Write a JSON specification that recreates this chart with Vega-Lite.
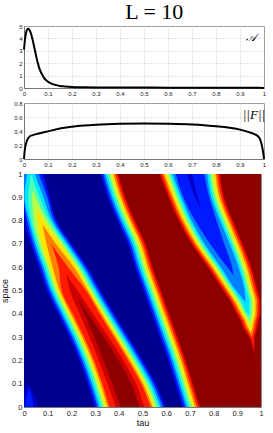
{
  "$schema": "https://vega.github.io/schema/vega-lite/v6.json",
  "title": {"text": "L = 10", "font": "Liberation Serif", "fontSize": 22, "fontWeight": "normal", "anchor": "middle", "offset": -1, "dx": 20},
  "padding": {"left": 0, "top": 0, "right": 6, "bottom": 2},
  "spacing": 15,
  "bounds": "flush",
  "config": {
    "font": "Liberation Sans",
    "view": {"stroke": "#8a8a8a"},
    "axis": {"labelFontSize": 6.5, "labelColor": "#1a1a1a", "ticks": false, "tickSize": 0, "domainColor": "#777", "titleFontWeight": "normal", "titleFontSize": 9, "titleColor": "#111", "labelPadding": 2, "gridColor": "#c8c8c8", "gridDash": [1, 2], "labelFlush": false, "labelOverlap": false}
  },
  "datasets": {
    "A": [
      {"t":0,"v":3.1},{"t":0.004,"v":3.9},{"t":0.008,"v":4.4},{"t":0.012,"v":4.68},{"t":0.017,"v":4.78},{"t":0.022,"v":4.7},{"t":0.027,"v":4.5},{"t":0.032,"v":4.2},{"t":0.037,"v":3.8},{"t":0.042,"v":3.35},{"t":0.047,"v":2.9},{"t":0.052,"v":2.45},{"t":0.057,"v":2.05},{"t":0.062,"v":1.7},{"t":0.068,"v":1.38},{"t":0.075,"v":1.1},{"t":0.082,"v":0.86},{"t":0.09,"v":0.67},{"t":0.1,"v":0.5},{"t":0.11,"v":0.39},{"t":0.12,"v":0.31},{"t":0.135,"v":0.23},{"t":0.15,"v":0.17},{"t":0.17,"v":0.13},{"t":0.2,"v":0.09},{"t":0.25,"v":0.065},{"t":0.3,"v":0.05},{"t":0.4,"v":0.04},{"t":0.5,"v":0.035},{"t":0.6,"v":0.03},{"t":0.7,"v":0.03},{"t":0.8,"v":0.025},{"t":0.9,"v":0.02},{"t":0.95,"v":0.015},{"t":1,"v":0.01}
    ],
    "F": [
      {"t":0,"v":0},{"t":0.003,"v":0.12},{"t":0.007,"v":0.2},{"t":0.012,"v":0.26},{"t":0.018,"v":0.3},{"t":0.025,"v":0.325},{"t":0.035,"v":0.34},{"t":0.05,"v":0.355},{"t":0.075,"v":0.375},{"t":0.1,"v":0.395},{"t":0.15,"v":0.435},{"t":0.2,"v":0.46},{"t":0.25,"v":0.478},{"t":0.3,"v":0.49},{"t":0.4,"v":0.503},{"t":0.5,"v":0.507},{"t":0.6,"v":0.503},{"t":0.7,"v":0.493},{"t":0.75,"v":0.483},{"t":0.8,"v":0.468},{"t":0.85,"v":0.45},{"t":0.9,"v":0.42},{"t":0.94,"v":0.38},{"t":0.96,"v":0.355},{"t":0.975,"v":0.325},{"t":0.985,"v":0.27},{"t":0.992,"v":0.18},{"t":0.997,"v":0.08},{"t":1,"v":0}
    ],
    "BG": [{"g":"bg","s":0,"a":0,"b":1},{"g":"bg","s":1,"a":0,"b":1}],
    "L05": [
      {"g":"r1","s":0,"a":0.297,"b":0.598},{"g":"r1","s":0.1,"a":0.267,"b":0.558},{"g":"r1","s":0.2,"a":0.232,"b":0.503},{"g":"r1","s":0.3,"a":0.19,"b":0.443},{"g":"r1","s":0.4,"a":0.142,"b":0.383},{"g":"r1","s":0.5,"a":0.095,"b":0.325},{"g":"r1","s":0.6,"a":0.062,"b":0.27},{"g":"r1","s":0.7,"a":0.027,"b":0.203},{"g":"r1","s":0.8,"a":0.001,"b":0.139},{"g":"r1","s":0.9,"a":0,"b":0.11},{"g":"r1","s":1,"a":0,"b":0.086},
      {"g":"r2","s":0,"a":0.667,"b":1},{"g":"r2","s":0.1,"a":0.637,"b":1},{"g":"r2","s":0.2,"a":0.607,"b":1},{"g":"r2","s":0.3,"a":0.572,"b":1},{"g":"r2","s":0.4,"a":0.537,"b":1},{"g":"r2","s":0.5,"a":0.502,"b":1},{"g":"r2","s":0.6,"a":0.467,"b":1},{"g":"r2","s":0.7,"a":0.437,"b":1},{"g":"r2","s":0.8,"a":0.392,"b":1},{"g":"r2","s":0.9,"a":0.352,"b":1},{"g":"r2","s":1,"a":0.322,"b":1},
      {"g":"sp","s":0,"a":0,"b":0.06},{"g":"sp","s":0.05,"a":0,"b":0.045},{"g":"sp","s":0.1,"a":0.015,"b":0.015}
    ],
    "L10": [
      {"g":"r1","s":0,"a":0.301,"b":0.594},{"g":"r1","s":0.1,"a":0.271,"b":0.554},{"g":"r1","s":0.2,"a":0.236,"b":0.499},{"g":"r1","s":0.3,"a":0.194,"b":0.439},{"g":"r1","s":0.4,"a":0.146,"b":0.379},{"g":"r1","s":0.5,"a":0.099,"b":0.321},{"g":"r1","s":0.6,"a":0.066,"b":0.266},{"g":"r1","s":0.7,"a":0.031,"b":0.199},{"g":"r1","s":0.8,"a":0.005,"b":0.135},{"g":"r1","s":0.9,"a":0,"b":0.106},{"g":"r1","s":1,"a":0,"b":0.078},
      {"g":"r2b","s":0,"a":0.671,"b":1},{"g":"r2b","s":0.1,"a":0.641,"b":1},{"g":"r2b","s":0.2,"a":0.611,"b":1},{"g":"r2b","s":0.3,"a":0.576,"b":1},{"g":"r2b","s":0.4,"a":0.541,"b":1},{"g":"r2b","s":0.5,"a":0.506,"b":1},{"g":"r2b","s":0.6,"a":0.471,"b":1},{"g":"r2b","s":0.7,"a":0.441,"b":1},{"g":"r2b","s":0.8,"a":0.396,"b":1},{"g":"r2b","s":0.85,"a":0.376,"b":1},
      {"g":"r2a","s":0.85,"a":0.376,"b":0.747},{"g":"r2a","s":0.9,"a":0.356,"b":0.722},{"g":"r2a","s":1,"a":0.326,"b":0.69},
      {"g":"r3","s":0.85,"a":0.747,"b":1},{"g":"r3","s":0.9,"a":0.732,"b":1},{"g":"r3","s":1,"a":0.71,"b":1},
      {"g":"sp","s":0,"a":0.005,"b":0.04},{"g":"sp","s":0.05,"a":0.012,"b":0.032},{"g":"sp","s":0.08,"a":0.022,"b":0.022}
    ],
    "L20": [
      {"g":"r1","s":0,"a":0.31,"b":0.586},{"g":"r1","s":0.1,"a":0.28,"b":0.546},{"g":"r1","s":0.2,"a":0.245,"b":0.491},{"g":"r1","s":0.3,"a":0.203,"b":0.431},{"g":"r1","s":0.4,"a":0.155,"b":0.371},{"g":"r1","s":0.5,"a":0.108,"b":0.313},{"g":"r1","s":0.6,"a":0.075,"b":0.258},{"g":"r1","s":0.7,"a":0.04,"b":0.191},{"g":"r1","s":0.8,"a":0.014,"b":0.127},{"g":"r1","s":0.9,"a":0,"b":0.098},{"g":"r1","s":1,"a":0,"b":0.062},
      {"g":"r2b","s":0,"a":0.68,"b":1},{"g":"r2b","s":0.1,"a":0.65,"b":1},{"g":"r2b","s":0.2,"a":0.62,"b":1},{"g":"r2b","s":0.3,"a":0.585,"b":1},{"g":"r2b","s":0.4,"a":0.55,"b":1},{"g":"r2b","s":0.5,"a":0.515,"b":1},{"g":"r2b","s":0.567,"a":0.4912,"b":1},
      {"g":"r2a","s":0.567,"a":0.4912,"b":0.883},{"g":"r2a","s":0.6,"a":0.4795,"b":0.858},{"g":"r2a","s":0.7,"a":0.4495,"b":0.785},{"g":"r2a","s":0.8,"a":0.4045,"b":0.722},{"g":"r2a","s":0.9,"a":0.3645,"b":0.6725},{"g":"r2a","s":1,"a":0.3345,"b":0.64},
      {"g":"r3","s":0.567,"a":0.883,"b":1},{"g":"r3","s":0.6,"a":0.878,"b":1},{"g":"r3","s":0.7,"a":0.845,"b":1},{"g":"r3","s":0.8,"a":0.812,"b":1},{"g":"r3","s":0.9,"a":0.7815,"b":1},{"g":"r3","s":1,"a":0.76,"b":1}
    ],
    "L30": [
      {"g":"r1","s":0,"a":0.318,"b":0.577},{"g":"r1","s":0.1,"a":0.288,"b":0.537},{"g":"r1","s":0.2,"a":0.253,"b":0.482},{"g":"r1","s":0.3,"a":0.211,"b":0.422},{"g":"r1","s":0.4,"a":0.163,"b":0.362},{"g":"r1","s":0.5,"a":0.116,"b":0.304},{"g":"r1","s":0.6,"a":0.083,"b":0.249},{"g":"r1","s":0.7,"a":0.048,"b":0.182},{"g":"r1","s":0.8,"a":0.022,"b":0.118},{"g":"r1","s":0.9,"a":0.002,"b":0.082},{"g":"r1","s":1,"a":0.014,"b":0.046},
      {"g":"r2b","s":0,"a":0.688,"b":1},{"g":"r2b","s":0.1,"a":0.658,"b":1},{"g":"r2b","s":0.2,"a":0.628,"b":1},{"g":"r2b","s":0.3,"a":0.593,"b":1},{"g":"r2b","s":0.4,"a":0.558,"b":1},{"g":"r2b","s":0.45,"a":0.5405,"b":1},
      {"g":"r2a","s":0.45,"a":0.5405,"b":0.935},{"g":"r2a","s":0.5,"a":0.523,"b":0.895},{"g":"r2a","s":0.6,"a":0.488,"b":0.831},{"g":"r2a","s":0.7,"a":0.458,"b":0.762},{"g":"r2a","s":0.8,"a":0.413,"b":0.707},{"g":"r2a","s":0.9,"a":0.373,"b":0.664},{"g":"r2a","s":1,"a":0.343,"b":0.627},
      {"g":"r3","s":0.45,"a":0.935,"b":1},{"g":"r3","s":0.5,"a":0.931,"b":1},{"g":"r3","s":0.6,"a":0.905,"b":1},{"g":"r3","s":0.7,"a":0.868,"b":1},{"g":"r3","s":0.8,"a":0.827,"b":1},{"g":"r3","s":0.9,"a":0.79,"b":1},{"g":"r3","s":1,"a":0.773,"b":1}
    ],
    "L40": [
      {"g":"r1","s":0,"a":0.3265,"b":0.5685},{"g":"r1","s":0.1,"a":0.2965,"b":0.5285},{"g":"r1","s":0.2,"a":0.2615,"b":0.4735},{"g":"r1","s":0.3,"a":0.2195,"b":0.4135},{"g":"r1","s":0.4,"a":0.1715,"b":0.3535},{"g":"r1","s":0.5,"a":0.1245,"b":0.2955},{"g":"r1","s":0.6,"a":0.0915,"b":0.2405},{"g":"r1","s":0.7,"a":0.0565,"b":0.1735},{"g":"r1","s":0.8,"a":0.0305,"b":0.1095},{"g":"r1","s":0.9,"a":0.018,"b":0.066},{"g":"r1","s":1,"a":0.03,"b":0.03},
      {"g":"r2b","s":0,"a":0.6965,"b":1},{"g":"r2b","s":0.1,"a":0.6665,"b":1},{"g":"r2b","s":0.2,"a":0.6365,"b":1},{"g":"r2b","s":0.3,"a":0.6015,"b":1},{"g":"r2b","s":0.395,"a":0.5683,"b":1},
      {"g":"r2a","s":0.395,"a":0.5683,"b":0.948},{"g":"r2a","s":0.4,"a":0.5665,"b":0.9435},{"g":"r2a","s":0.45,"a":0.549,"b":0.9185},{"g":"r2a","s":0.5,"a":0.5315,"b":0.8865},{"g":"r2a","s":0.6,"a":0.4965,"b":0.8225},{"g":"r2a","s":0.7,"a":0.4665,"b":0.7535},{"g":"r2a","s":0.8,"a":0.4215,"b":0.6985},{"g":"r2a","s":0.9,"a":0.3815,"b":0.6555},{"g":"r2a","s":1,"a":0.3515,"b":0.6185},
      {"g":"r3","s":0.395,"a":0.948,"b":1},{"g":"r3","s":0.4,"a":0.9505,"b":1},{"g":"r3","s":0.45,"a":0.9515,"b":1},{"g":"r3","s":0.5,"a":0.9395,"b":1},{"g":"r3","s":0.6,"a":0.9135,"b":1},{"g":"r3","s":0.7,"a":0.8765,"b":1},{"g":"r3","s":0.8,"a":0.8355,"b":1},{"g":"r3","s":0.9,"a":0.7985,"b":1},{"g":"r3","s":1,"a":0.7815,"b":1}
    ],
    "L50": [
      {"g":"r1","s":0,"a":0.335,"b":0.56},{"g":"r1","s":0.1,"a":0.305,"b":0.52},{"g":"r1","s":0.2,"a":0.27,"b":0.465},{"g":"r1","s":0.3,"a":0.228,"b":0.405},{"g":"r1","s":0.4,"a":0.18,"b":0.345},{"g":"r1","s":0.5,"a":0.133,"b":0.287},{"g":"r1","s":0.6,"a":0.1,"b":0.232},{"g":"r1","s":0.7,"a":0.065,"b":0.165},{"g":"r1","s":0.8,"a":0.041,"b":0.099},{"g":"r1","s":0.9,"a":0.034,"b":0.05},{"g":"r1","s":0.933,"a":0.038,"b":0.038},
      {"g":"r2b","s":0,"a":0.705,"b":1},{"g":"r2b","s":0.1,"a":0.675,"b":1},{"g":"r2b","s":0.2,"a":0.645,"b":1},{"g":"r2b","s":0.3,"a":0.61,"b":1},{"g":"r2b","s":0.37,"a":0.5855,"b":1},
      {"g":"r2a","s":0.37,"a":0.5855,"b":0.952},{"g":"r2a","s":0.4,"a":0.575,"b":0.935},{"g":"r2a","s":0.45,"a":0.5575,"b":0.91},{"g":"r2a","s":0.5,"a":0.54,"b":0.878},{"g":"r2a","s":0.6,"a":0.505,"b":0.814},{"g":"r2a","s":0.7,"a":0.475,"b":0.745},{"g":"r2a","s":0.8,"a":0.43,"b":0.69},{"g":"r2a","s":0.9,"a":0.39,"b":0.647},{"g":"r2a","s":1,"a":0.36,"b":0.612},
      {"g":"r3","s":0.37,"a":0.952,"b":1},{"g":"r3","s":0.4,"a":0.959,"b":1},{"g":"r3","s":0.45,"a":0.96,"b":1},{"g":"r3","s":0.5,"a":0.948,"b":1},{"g":"r3","s":0.6,"a":0.922,"b":1},{"g":"r3","s":0.7,"a":0.885,"b":1},{"g":"r3","s":0.8,"a":0.844,"b":1},{"g":"r3","s":0.9,"a":0.807,"b":1},{"g":"r3","s":1,"a":0.788,"b":1}
    ],
    "L60": [
      {"g":"r1","s":0,"a":0.3435,"b":0.5515},{"g":"r1","s":0.1,"a":0.3135,"b":0.5115},{"g":"r1","s":0.2,"a":0.2785,"b":0.4565},{"g":"r1","s":0.3,"a":0.2365,"b":0.3965},{"g":"r1","s":0.4,"a":0.1885,"b":0.3365},{"g":"r1","s":0.5,"a":0.1415,"b":0.2785},{"g":"r1","s":0.6,"a":0.1085,"b":0.2235},{"g":"r1","s":0.7,"a":0.075,"b":0.155},{"g":"r1","s":0.8,"a":0.057,"b":0.083},{"g":"r1","s":0.862,"a":0.052,"b":0.052},
      {"g":"r2b","s":0,"a":0.7135,"b":1},{"g":"r2b","s":0.1,"a":0.6835,"b":1},{"g":"r2b","s":0.2,"a":0.6535,"b":1},{"g":"r2b","s":0.3,"a":0.6185,"b":1},{"g":"r2b","s":0.34,"a":0.6045,"b":1},
      {"g":"r2a","s":0.34,"a":0.6045,"b":0.955},{"g":"r2a","s":0.37,"a":0.594,"b":0.9435},{"g":"r2a","s":0.4,"a":0.5835,"b":0.9265},{"g":"r2a","s":0.45,"a":0.566,"b":0.9015},{"g":"r2a","s":0.5,"a":0.5485,"b":0.8695},{"g":"r2a","s":0.6,"a":0.5135,"b":0.8055},{"g":"r2a","s":0.7,"a":0.4835,"b":0.7365},{"g":"r2a","s":0.8,"a":0.4385,"b":0.6815},{"g":"r2a","s":0.9,"a":0.3985,"b":0.6385},{"g":"r2a","s":1,"a":0.3685,"b":0.6015},
      {"g":"r3","s":0.34,"a":0.955,"b":1},{"g":"r3","s":0.37,"a":0.9605,"b":1},{"g":"r3","s":0.4,"a":0.9675,"b":1},{"g":"r3","s":0.45,"a":0.9685,"b":1},{"g":"r3","s":0.5,"a":0.9565,"b":1},{"g":"r3","s":0.6,"a":0.9305,"b":1},{"g":"r3","s":0.7,"a":0.8935,"b":1},{"g":"r3","s":0.8,"a":0.8525,"b":1},{"g":"r3","s":0.9,"a":0.8155,"b":1},{"g":"r3","s":1,"a":0.7985,"b":1}
    ],
    "L70": [
      {"g":"r1","s":0,"a":0.352,"b":0.543},{"g":"r1","s":0.1,"a":0.322,"b":0.503},{"g":"r1","s":0.2,"a":0.287,"b":0.448},{"g":"r1","s":0.3,"a":0.245,"b":0.388},{"g":"r1","s":0.4,"a":0.197,"b":0.328},{"g":"r1","s":0.5,"a":0.15,"b":0.27},{"g":"r1","s":0.6,"a":0.121,"b":0.211},{"g":"r1","s":0.7,"a":0.095,"b":0.135},{"g":"r1","s":0.783,"a":0.078,"b":0.078},
      {"g":"r2b","s":0,"a":0.722,"b":1},{"g":"r2b","s":0.1,"a":0.692,"b":1},{"g":"r2b","s":0.2,"a":0.662,"b":1},{"g":"r2b","s":0.3,"a":0.627,"b":1},{"g":"r2b","s":0.32,"a":0.62,"b":1},
      {"g":"r2a","s":0.32,"a":0.62,"b":0.958},{"g":"r2a","s":0.34,"a":0.613,"b":0.9465},{"g":"r2a","s":0.37,"a":0.6025,"b":0.935},{"g":"r2a","s":0.4,"a":0.592,"b":0.918},{"g":"r2a","s":0.45,"a":0.5745,"b":0.893},{"g":"r2a","s":0.5,"a":0.557,"b":0.861},{"g":"r2a","s":0.6,"a":0.522,"b":0.797},{"g":"r2a","s":0.7,"a":0.492,"b":0.728},{"g":"r2a","s":0.8,"a":0.447,"b":0.673},{"g":"r2a","s":0.9,"a":0.407,"b":0.63},{"g":"r2a","s":1,"a":0.377,"b":0.593},
      {"g":"r3","s":0.32,"a":0.958,"b":1},{"g":"r3","s":0.34,"a":0.9635,"b":1},{"g":"r3","s":0.37,"a":0.969,"b":1},{"g":"r3","s":0.4,"a":0.976,"b":1},{"g":"r3","s":0.45,"a":0.977,"b":1},{"g":"r3","s":0.5,"a":0.965,"b":1},{"g":"r3","s":0.6,"a":0.939,"b":1},{"g":"r3","s":0.7,"a":0.902,"b":1},{"g":"r3","s":0.8,"a":0.861,"b":1},{"g":"r3","s":0.9,"a":0.824,"b":1},{"g":"r3","s":1,"a":0.807,"b":1}
    ],
    "L80": [
      {"g":"r1","s":0,"a":0.3605,"b":0.5345},{"g":"r1","s":0.1,"a":0.3305,"b":0.4945},{"g":"r1","s":0.2,"a":0.2955,"b":0.4395},{"g":"r1","s":0.3,"a":0.2535,"b":0.3795},{"g":"r1","s":0.4,"a":0.2055,"b":0.3195},{"g":"r1","s":0.5,"a":0.1585,"b":0.2615},{"g":"r1","s":0.6,"a":0.146,"b":0.186},{"g":"r1","s":0.7,"a":0.115,"b":0.115},
      {"g":"r2b","s":0,"a":0.7305,"b":1},{"g":"r2b","s":0.1,"a":0.7005,"b":1},{"g":"r2b","s":0.2,"a":0.6705,"b":1},{"g":"r2b","s":0.3,"a":0.6355,"b":1},
      {"g":"r2a","s":0.3,"a":0.6355,"b":0.962},{"g":"r2a","s":0.32,"a":0.6285,"b":0.9495},{"g":"r2a","s":0.34,"a":0.6215,"b":0.938},{"g":"r2a","s":0.37,"a":0.611,"b":0.9265},{"g":"r2a","s":0.4,"a":0.6005,"b":0.9095},{"g":"r2a","s":0.45,"a":0.583,"b":0.8845},{"g":"r2a","s":0.5,"a":0.5655,"b":0.8525},{"g":"r2a","s":0.6,"a":0.5305,"b":0.7885},{"g":"r2a","s":0.7,"a":0.5005,"b":0.7195},{"g":"r2a","s":0.8,"a":0.4555,"b":0.6645},{"g":"r2a","s":0.9,"a":0.4155,"b":0.6215},{"g":"r2a","s":1,"a":0.3855,"b":0.5845},
      {"g":"r3","s":0.3,"a":0.962,"b":1},{"g":"r3","s":0.32,"a":0.9665,"b":1},{"g":"r3","s":0.34,"a":0.972,"b":1},{"g":"r3","s":0.37,"a":0.9775,"b":1},{"g":"r3","s":0.4,"a":0.9845,"b":1},{"g":"r3","s":0.45,"a":0.9855,"b":1},{"g":"r3","s":0.5,"a":0.9735,"b":1},{"g":"r3","s":0.6,"a":0.9475,"b":1},{"g":"r3","s":0.7,"a":0.9105,"b":1},{"g":"r3","s":0.8,"a":0.8695,"b":1},{"g":"r3","s":0.9,"a":0.8325,"b":1},{"g":"r3","s":1,"a":0.8155,"b":1}
    ],
    "L90": [
      {"g":"r1","s":0,"a":0.3875,"b":0.5075},{"g":"r1","s":0.1,"a":0.3525,"b":0.4725},{"g":"r1","s":0.2,"a":0.3155,"b":0.4195},{"g":"r1","s":0.3,"a":0.2765,"b":0.3565},{"g":"r1","s":0.4,"a":0.2345,"b":0.2905},{"g":"r1","s":0.5,"a":0.194,"b":0.226},{"g":"r1","s":0.567,"a":0.18,"b":0.18},
      {"g":"r2b","s":0,"a":0.739,"b":1},{"g":"r2b","s":0.1,"a":0.709,"b":1},{"g":"r2b","s":0.2,"a":0.679,"b":1},{"g":"r2b","s":0.25,"a":0.6615,"b":1},
      {"g":"r2a","s":0.25,"a":0.6615,"b":0.97},{"g":"r2a","s":0.3,"a":0.644,"b":0.9535},{"g":"r2a","s":0.32,"a":0.637,"b":0.941},{"g":"r2a","s":0.34,"a":0.63,"b":0.9295},{"g":"r2a","s":0.37,"a":0.6195,"b":0.918},{"g":"r2a","s":0.4,"a":0.609,"b":0.901},{"g":"r2a","s":0.45,"a":0.5915,"b":0.876},{"g":"r2a","s":0.5,"a":0.574,"b":0.844},{"g":"r2a","s":0.6,"a":0.539,"b":0.78},{"g":"r2a","s":0.7,"a":0.509,"b":0.711},{"g":"r2a","s":0.8,"a":0.464,"b":0.656},{"g":"r2a","s":0.9,"a":0.424,"b":0.613},{"g":"r2a","s":1,"a":0.394,"b":0.576},
      {"g":"r3","s":0.25,"a":0.97,"b":1},{"g":"r3","s":0.3,"a":0.9705,"b":1},{"g":"r3","s":0.32,"a":0.975,"b":1},{"g":"r3","s":0.34,"a":0.9805,"b":1},{"g":"r3","s":0.37,"a":0.986,"b":1},{"g":"r3","s":0.4,"a":0.993,"b":1},{"g":"r3","s":0.45,"a":0.994,"b":1},{"g":"r3","s":0.5,"a":0.982,"b":1},{"g":"r3","s":0.6,"a":0.956,"b":1},{"g":"r3","s":0.7,"a":0.919,"b":1},{"g":"r3","s":0.8,"a":0.878,"b":1},{"g":"r3","s":0.9,"a":0.841,"b":1},{"g":"r3","s":1,"a":0.824,"b":1}
    ],
    "L95": [
      {"g":"r1","s":0,"a":0.4075,"b":0.4875},{"g":"r1","s":0.1,"a":0.3725,"b":0.4525},{"g":"r1","s":0.2,"a":0.3355,"b":0.3995},{"g":"r1","s":0.3,"a":0.2965,"b":0.3365},{"g":"r1","s":0.4,"a":0.2545,"b":0.2705},{"g":"r1","s":0.467,"a":0.227,"b":0.227},
      {"g":"r2b","s":0,"a":0.7433,"b":1},{"g":"r2b","s":0.1,"a":0.7133,"b":1},{"g":"r2b","s":0.15,"a":0.6983,"b":1},
      {"g":"r2a","s":0.15,"a":0.6983,"b":0.985},{"g":"r2a","s":0.25,"a":0.6658,"b":0.966},{"g":"r2a","s":0.3,"a":0.6483,"b":0.9493},{"g":"r2a","s":0.32,"a":0.6413,"b":0.9368},{"g":"r2a","s":0.34,"a":0.6343,"b":0.9253},{"g":"r2a","s":0.37,"a":0.6238,"b":0.9138},{"g":"r2a","s":0.4,"a":0.6133,"b":0.8968},{"g":"r2a","s":0.45,"a":0.5958,"b":0.8718},{"g":"r2a","s":0.5,"a":0.5783,"b":0.8398},{"g":"r2a","s":0.6,"a":0.5433,"b":0.7758},{"g":"r2a","s":0.7,"a":0.5133,"b":0.7068},{"g":"r2a","s":0.8,"a":0.4683,"b":0.6518},{"g":"r2a","s":0.9,"a":0.4283,"b":0.6088},{"g":"r2a","s":1,"a":0.3983,"b":0.5718},
      {"g":"r3","s":0.15,"a":0.985,"b":1},{"g":"r3","s":0.25,"a":0.974,"b":1},{"g":"r3","s":0.3,"a":0.9748,"b":1},{"g":"r3","s":0.32,"a":0.9793,"b":1},{"g":"r3","s":0.34,"a":0.9848,"b":1},{"g":"r3","s":0.37,"a":0.9903,"b":1},{"g":"r3","s":0.4,"a":0.9973,"b":1},{"g":"r3","s":0.45,"a":0.9983,"b":1},{"g":"r3","s":0.5,"a":0.9863,"b":1},{"g":"r3","s":0.6,"a":0.9603,"b":1},{"g":"r3","s":0.7,"a":0.9233,"b":1},{"g":"r3","s":0.8,"a":0.8823,"b":1},{"g":"r3","s":0.9,"a":0.8453,"b":1},{"g":"r3","s":1,"a":0.8283,"b":1}
    ]
  },
  "vconcat": [
    {
      "width": 240,
      "height": 62,
      "encoding": {
        "x": {"field": "t", "type": "quantitative", "scale": {"domain": [0, 1], "nice": false}, "axis": {"values": [0,0.1,0.2,0.3,0.4,0.5,0.6,0.7,0.8,0.9,1], "format": "~g", "title": null, "grid": true, "labelFontSize": 6, "labelOverlap": false}},
        "y": {"field": "v", "type": "quantitative", "scale": {"domain": [0, 5], "nice": false}, "axis": {"values": [0,1,2,3,4,5], "format": "~g", "title": null, "grid": true, "labelFontSize": 6, "labelOverlap": false}}
      },
      "layer": [
        {
          "data": {"name": "A"},
          "mark": {"type": "line", "color": "#000000", "strokeWidth": 2, "interpolate": "monotone"}
        },
        {
          "data": {"values": [{"t": 0.945, "v": 4.0, "lab": "𝒜"}]},
          "mark": {"type": "text", "font": "DejaVu Serif", "fontSize": 11, "fontStyle": "italic", "color": "#000000"},
          "encoding": {"text": {"field": "lab"}}
        }
      ]
    },
    {
      "width": 240,
      "height": 56,
      "encoding": {
        "x": {"field": "t", "type": "quantitative", "scale": {"domain": [0, 1], "nice": false}, "axis": {"values": [0,0.1,0.2,0.3,0.4,0.5,0.6,0.7,0.8,0.9,1], "format": "~g", "title": null, "grid": true, "labelFontSize": 6, "labelOverlap": false}},
        "y": {"field": "v", "type": "quantitative", "scale": {"domain": [0, 0.8], "nice": false}, "axis": {"values": [0,0.2,0.4,0.6,0.8], "format": "~g", "title": null, "grid": true, "labelFontSize": 6, "labelOverlap": false}}
      },
      "layer": [
        {
          "data": {"name": "F"},
          "mark": {"type": "line", "color": "#000000", "strokeWidth": 2, "interpolate": "monotone"}
        },
        {
          "data": {"values": [{"t": 0.958, "v": 0.63, "lab": "||F||"}]},
          "mark": {"type": "text", "font": "Liberation Serif", "fontSize": 13, "fontStyle": "italic", "color": "#000000"},
          "encoding": {"text": {"field": "lab"}}
        }
      ]
    },
    {
      "width": 237,
      "height": 233,
      "encoding": {
        "y": {"field": "s", "type": "quantitative", "scale": {"domain": [0, 1], "nice": false}, "axis": {"values": [0,0.1,0.2,0.3,0.4,0.5,0.6,0.7,0.8,0.9,1], "format": "~g", "title": "space", "grid": false, "labelFontSize": 7.5, "titleFontSize": 9, "titlePadding": 2, "labelOverlap": false}},
        "x": {"field": "a", "type": "quantitative", "scale": {"domain": [0, 1], "nice": false}, "axis": {"values": [0,0.1,0.2,0.3,0.4,0.5,0.6,0.7,0.8,0.9,1], "format": "~g", "title": "tau", "grid": false, "labelFontSize": 7.5, "titleFontSize": 9, "titlePadding": 2, "labelOverlap": false}},
        "x2": {"field": "b"},
        "detail": {"field": "g"}
      },
      "layer": [
        {"data": {"name": "BG"}, "mark": {"type": "area", "orient": "horizontal", "color": "#000090", "clip": true}},
        {"data": {"name": "L05"}, "mark": {"type": "area", "orient": "horizontal", "interpolate": "monotone", "color": "#0000c8", "clip": true}},
        {"data": {"name": "L10"}, "mark": {"type": "area", "orient": "horizontal", "interpolate": "monotone", "color": "#001aff", "clip": true}},
        {"data": {"name": "L20"}, "mark": {"type": "area", "orient": "horizontal", "interpolate": "monotone", "color": "#0080ff", "clip": true}},
        {"data": {"name": "L30"}, "mark": {"type": "area", "orient": "horizontal", "interpolate": "monotone", "color": "#00e6ff", "clip": true}},
        {"data": {"name": "L40"}, "mark": {"type": "area", "orient": "horizontal", "interpolate": "monotone", "color": "#4dffb3", "clip": true}},
        {"data": {"name": "L50"}, "mark": {"type": "area", "orient": "horizontal", "interpolate": "monotone", "color": "#b3ff4d", "clip": true}},
        {"data": {"name": "L60"}, "mark": {"type": "area", "orient": "horizontal", "interpolate": "monotone", "color": "#ffe600", "clip": true}},
        {"data": {"name": "L70"}, "mark": {"type": "area", "orient": "horizontal", "interpolate": "monotone", "color": "#ff8000", "clip": true}},
        {"data": {"name": "L80"}, "mark": {"type": "area", "orient": "horizontal", "interpolate": "monotone", "color": "#ff1a00", "clip": true}},
        {"data": {"name": "L90"}, "mark": {"type": "area", "orient": "horizontal", "interpolate": "monotone", "color": "#cc0000", "clip": true}},
        {"data": {"name": "L95"}, "mark": {"type": "area", "orient": "horizontal", "interpolate": "monotone", "color": "#8c0000", "clip": true}}
      ]
    }
  ]
}
